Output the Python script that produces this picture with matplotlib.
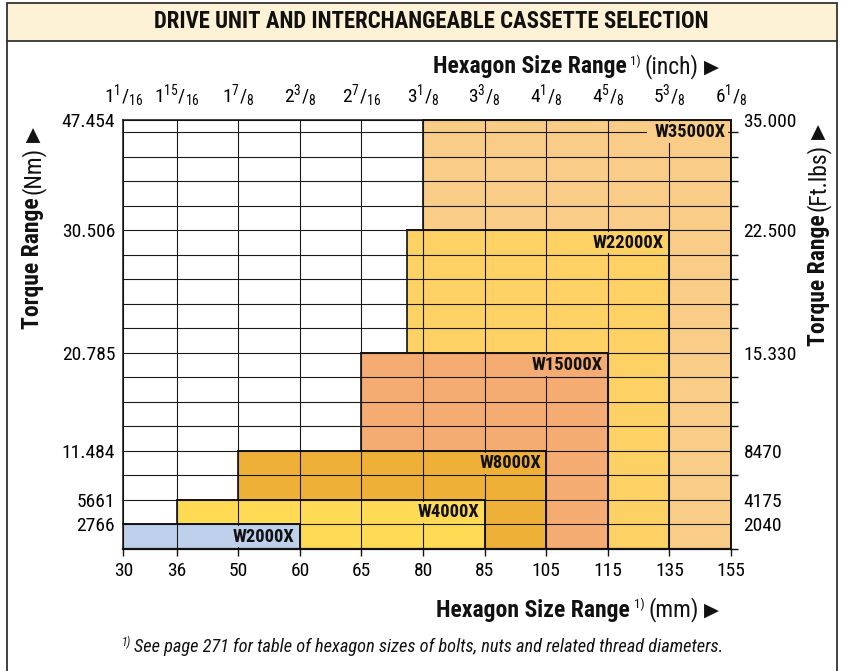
import numpy as np
import matplotlib
matplotlib.use('Agg')
import matplotlib.pyplot as plt
from matplotlib import font_manager, transforms
from matplotlib.patches import Rectangle
from matplotlib.lines import Line2D

# ---------------- data ----------------
mm_ticks = [30, 36, 50, 60, 65, 80, 85, 105, 115, 135, 155]
inch_labels = [r'$1^{1}/_{16}$', r'$1^{15}/_{16}$', r'$1^{7}/_{8}$', r'$2^{3}/_{8}$',
               r'$2^{7}/_{16}$', r'$3^{1}/_{8}$', r'$3^{3}/_{8}$', r'$4^{1}/_{8}$',
               r'$4^{5}/_{8}$', r'$5^{3}/_{8}$', r'$6^{1}/_{8}$']
nm_ticks = [2766, 5661, 11484, 20785, 30506, 47454]
nm_labels = ['2766', '5661', '11.484', '20.785', '30.506', '47.454']
ftlb_labels = ['2040', '4175', '8470', '15.330', '22.500', '35.000']

models = ['W35000X', 'W22000X', 'W15000X', 'W8000X', 'W4000X', 'W2000X']
hex_min = [80, 76, 65, 50, 36, 30]
hex_max = [155, 135, 115, 105, 85, 60]
torque_max = [47454, 30506, 20785, 11484, 5661, 2766]
colors = ['#F9CD88', '#FDD164', '#F4AC72', '#EFB037', '#FFDA55', '#BED0EC']

# ---------------- fonts ----------------
names = {f.name for f in font_manager.fontManager.ttflist}
cands = ['Liberation Sans Narrow', 'Roboto Condensed', 'Open Sans Condensed',
         'Noto Sans Condensed', 'Liberation Sans']
FONT = next((c for c in cands if c in names), 'DejaVu Sans')
plt.rcParams['font.family'] = [FONT, 'DejaVu Sans']
plt.rcParams['mathtext.fontset'] = 'custom'
plt.rcParams['mathtext.rm'] = FONT
plt.rcParams['mathtext.it'] = FONT + ':italic'
plt.rcParams['mathtext.bf'] = FONT + ':bold'

INK = '#111111'

# ---------------- layout ----------------
W, H = 842, 671
fig = plt.figure(figsize=(W / 100, H / 100), dpi=100)
fig.patch.set_facecolor('white')

def fx(x):
    return x / W

def fy(y):
    return 1 - y / H

ax_l, ax_r, ax_t, ax_b = 123.5, 731, 120, 549
ax = fig.add_axes([fx(ax_l), fy(ax_b), fx(ax_r - ax_l), (ax_b - ax_t) / H])

first_gap = 0.864
tick_x = np.r_[0, first_gap + np.arange(len(mm_ticks) - 1)]
label_rows = [1, 2, 4, 8, 13, 17.5]
n_rows = 17.5

def xmap(v):
    return np.interp(v, mm_ticks, tick_x)

def ymap(v):
    return np.interp(v, [0] + nm_ticks, [0] + label_rows)

ax.set_xlim(tick_x[0], tick_x[-1])
ax.set_ylim(0, n_rows)

# rectangles (fill + full outline, stacked), labels, and top/right edges redrawn on top
label_objs = []
for i, (m, a, b, t, c) in enumerate(zip(models, hex_min, hex_max, torque_max, colors)):
    x0, x1 = xmap(a), xmap(b)
    y1 = ymap(t)
    ax.add_patch(Rectangle((x0, 0), x1 - x0, y1, facecolor=c, edgecolor=INK,
                           lw=1.2, zorder=1 + i * 0.05))
    ax.plot([x0, x1, x1], [y1, y1, 0], color=INK, lw=1.2, zorder=4,
            solid_joinstyle='miter', clip_on=False)
    txt = ax.text(x1 - 0.085, y1 - 0.5, m, ha='right', va='center', fontsize=13.3,
                  fontweight='bold', color=INK, zorder=3.2)
    label_objs.append((txt, c))

# grid
ax.set_axisbelow('line')
ax.set_xticks(tick_x)
ax.set_xticklabels([str(v) for v in mm_ticks], fontsize=14)
ax.set_yticks(np.arange(1, 18), minor=True)
ax.set_yticks(label_rows)
ax.set_yticklabels(nm_labels, fontsize=14)
ax.grid(True, which='both', color='#1a1a1a', lw=0.8)
ax.tick_params(axis='y', which='both', left=False, length=0, pad=6)
ax.tick_params(axis='x', which='major', direction='out', length=5, width=1, pad=4,
               color=INK)
for sp in ax.spines.values():
    sp.set_linewidth(1.1)
    sp.set_color(INK)
ax.spines['bottom'].set_linewidth(1.6)

# right axis
axr = ax.twinx()
axr.set_ylim(0, n_rows)
axr.set_yticks(label_rows)
axr.set_yticklabels(ftlb_labels, fontsize=14)
axr.set_yticks(np.arange(0, 18), minor=True)
axr.tick_params(axis='y', which='major', length=0, pad=9)
axr.tick_params(axis='y', which='minor', length=5, width=1, direction='out', color=INK)
for sp in axr.spines.values():
    sp.set_visible(False)

# top axis (inch)
axt = ax.twiny()
axt.set_xlim(ax.get_xlim())
axt.set_xticks(tick_x)
axt.set_xticklabels(inch_labels, fontsize=14)
axt.tick_params(axis='x', length=0, pad=8)
for sp in axt.spines.values():
    sp.set_visible(False)

# ---------------- frame & title ----------------
fig.add_artist(Rectangle((fx(7), fy(41)), fx(837 - 7), (41 - 3) / H,
                         transform=fig.transFigure, facecolor='#FDF2D5',
                         edgecolor='#333333', lw=1.3))
for xx in (7, 837):
    fig.add_artist(Line2D([fx(xx), fx(xx)], [fy(41), 0], transform=fig.transFigure,
                          color='#333333', lw=1.3))
fig.text(fx(431), fy(22), 'DRIVE UNIT AND INTERCHANGEABLE CASSETTE SELECTION',
         ha='center', va='center', fontsize=16.4, fontweight='bold', color=INK)

# ---------------- label backgrounds ----------------
fig.canvas.draw()
renderer = fig.canvas.get_renderer()
ident = transforms.IdentityTransform()

for txt, c in label_objs:
    bb = txt.get_window_extent(renderer)
    cy = (bb.y0 + bb.y1) / 2
    ax.add_patch(Rectangle((bb.x0 - 8, cy - 10.5), bb.width + 10, 21, transform=ident,
                           facecolor=c, edgecolor='none', zorder=3, clip_on=False))

# ---------------- multi-style text runs ----------------
def run(pieces, x, y, anchor_end=True, rotation=0):
    """pieces: (text, kwargs, shift_px, gap_after_px); x,y pixel coords from top-left."""
    objs = []
    sizes = []
    for s, kw, shift, gap in pieces:
        t = fig.text(0, 0, s, transform=ident, ha='center', va='center',
                     rotation=rotation, color=INK, **kw)
        bb = t.get_window_extent(renderer)
        objs.append(t)
        sizes.append(bb.width if rotation == 0 else bb.height)
    total = sum(sizes) + sum(p[3] for p in pieces[:-1])
    yd = H - y
    if rotation == 0:
        cur = x - total if anchor_end else x
        for t, sz, (s, kw, shift, gap) in zip(objs, sizes, pieces):
            t.set_position((cur + sz / 2, yd + shift))
            cur += sz + gap
    else:
        cur = yd - total / 2
        for t, sz, (s, kw, shift, gap) in zip(objs, sizes, pieces):
            t.set_position((x - shift, cur + sz / 2))
            cur += sz + gap

arrow = dict(fontsize=14, family='DejaVu Sans')
run([('Hexagon Size Range', dict(fontsize=17, fontweight='bold'), 0, 4),
     ('1)', dict(fontsize=9.5), 6, 4),
     ('(inch)', dict(fontsize=17), 0, 5),
     ('▶', arrow, 0, 0)], 719, 67)
run([('Hexagon Size Range', dict(fontsize=17, fontweight='bold'), 0, 4),
     ('1)', dict(fontsize=9.5), 6, 4),
     ('(mm)', dict(fontsize=17), 0, 5),
     ('▶', arrow, 0, 0)], 719, 610)
run([('1)', dict(fontsize=8.5, style='italic'), 5, 3),
     ('See page 271 for table of hexagon sizes of bolts, nuts and related thread diameters.',
      dict(fontsize=13.2, style='italic'), 0, 0)], 122, 647, anchor_end=False)
run([('Torque Range', dict(fontsize=17, fontweight='bold'), 0, 4),
     ('(Nm)', dict(fontsize=17), 0, 5),
     ('▶', arrow, 0, 0)], 33, 228, rotation=90)
run([('Torque Range', dict(fontsize=17, fontweight='bold'), 0, 4),
     ('(Ft.lbs)', dict(fontsize=17), 0, 5),
     ('▶', arrow, 0, 0)], 818, 235, rotation=90)

fig.savefig('out.png', dpi=100)
